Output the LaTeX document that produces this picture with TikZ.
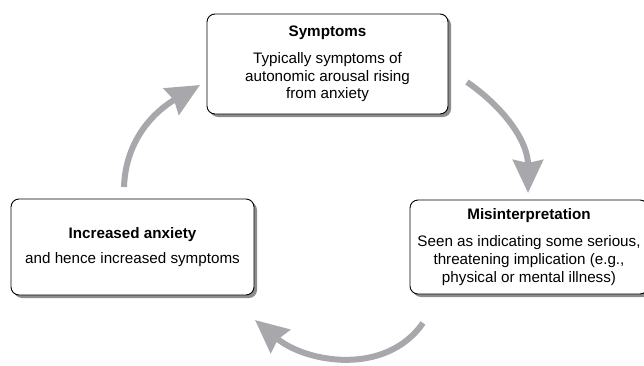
\documentclass[tikz,border=0pt]{standalone}
\usepackage{fontspec}
\setmainfont{Liberation Sans}
\usepackage{tikz}
\usetikzlibrary{arrows.meta,shadows,positioning}
\definecolor{arrowgray}{RGB}{168,168,172}
\definecolor{shadowgray}{RGB}{140,140,142}

\begin{document}
\begin{tikzpicture}[x=1pt,y=1pt,
    every node/.style={font=\fontsize{15.2}{17.8}\selectfont, align=center},
    box/.style={draw=black, line width=0.9pt, rounded corners=8pt, fill=white,
        inner sep=0pt,
        drop shadow={shadow xshift=3pt, shadow yshift=-3pt, fill=shadowgray, opacity=1}},
    cycle arrow/.style={draw=arrowgray, line width=6pt,
        -{Stealth[length=33pt,width=30pt,inset=3pt,fill=arrowgray]}}]
    \useasboundingbox (0,0) rectangle (644,365);
    % the three stages
    \node[box, minimum width=241pt, minimum height=100pt] (symptoms) at (327.5,301)
        {\textbf{Symptoms}\\[9pt]Typically symptoms of\\autonomic arousal rising\\from anxiety};
    \node[box, minimum width=238pt, minimum height=94pt] (misinterp) at (529,118)
        {\textbf{Misinterpretation}\\[9pt]Seen as indicating some serious,\\threatening implication (e.g.,\\physical or mental illness)};
    \node[box, minimum width=243pt, minimum height=96pt] (anxiety) at (132.5,118)
        {\textbf{Increased anxiety}\\[7pt]and hence increased symptoms};
    % cycle
    \coordinate (a1) at (467,283);
    \coordinate (b1) at (528,172);
    \coordinate (a2) at (423,42);
    \coordinate (b2) at (255,45);
    \coordinate (a3) at (124,178);
    \coordinate (b3) at (200,280);
    \draw[cycle arrow] (a1) to[out=-35,in=90] (b1);
    \draw[cycle arrow] (a2) to[out=-125,in=-40] (b2);
    \draw[cycle arrow] (a3) to[out=88,in=-150] (b3);
\end{tikzpicture}
\end{document}
